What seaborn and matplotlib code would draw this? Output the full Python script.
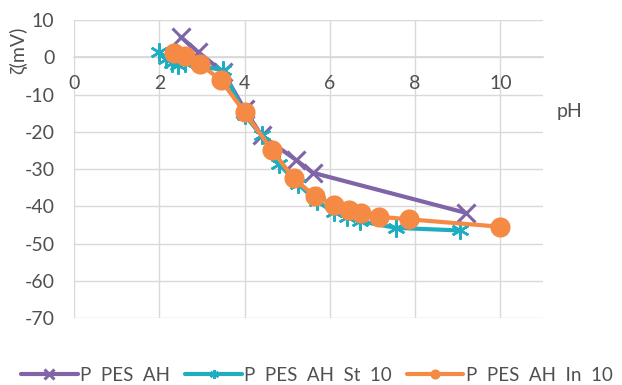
import matplotlib
matplotlib.use("Agg")
import matplotlib.pyplot as plt
import seaborn as sns
import pandas as pd

# data
ph_ah = [2.5, 2.9, 3.5, 4.0, 4.4, 5.2, 5.6, 9.2]
z_ah = [5.5, 1.5, -4.0, -14.0, -21.0, -27.5, -31.0, -41.8]

ph_st = [2.0, 2.15, 2.3, 2.45, 2.6, 3.5, 4.0, 4.4, 4.8, 5.25, 5.7, 6.1, 6.4, 6.7, 7.55, 9.05]
z_st = [1.5, -0.5, -1.5, -2.0, -1.5, -3.5, -15.5, -21.0, -28.6, -34.0, -38.7, -41.6, -43.0, -44.0, -45.8, -46.5]

ph_in = [2.35, 2.6, 2.95, 3.45, 4.0, 4.65, 5.15, 5.65, 6.1, 6.45, 6.72, 7.15, 7.85, 10.0]
z_in = [1.2, 0.3, -1.8, -6.2, -14.8, -25.0, -32.5, -37.3, -39.6, -40.9, -41.9, -42.8, -43.5, -45.5]

labels = ["P  PES  AH", "P  PES  AH  St  10", "P  PES  AH  In  10"]
colors = ["#8064A8", "#1FADC2", "#F58A45"]

sns.set_theme(style="white")
plt.rcParams['font.family'] = ['Lato', 'DejaVu Sans']
plt.rcParams['axes.unicode_minus'] = False

fig = plt.figure(figsize=(6.22, 3.85), dpi=100)
ax = fig.add_axes([0.119, 0.174, 0.754, 0.774])

df_ah = pd.DataFrame({"pH": ph_ah, "z": z_ah})
df_st = pd.DataFrame({"pH": ph_st, "z": z_st})
df_in = pd.DataFrame({"pH": ph_in, "z": z_in})

sns.lineplot(data=df_ah, x="pH", y="z", sort=False, ax=ax, color=colors[0],
             linewidth=3, marker="x", markersize=13, markeredgewidth=2.2,
             markeredgecolor=colors[0], label=labels[0], zorder=3)
sns.lineplot(data=df_st, x="pH", y="z", sort=False, ax=ax, color=colors[1],
             linewidth=3, marker=(6, 2, 0), markersize=13, markeredgewidth=1.8,
             markeredgecolor=colors[1], label=labels[1], zorder=4)
sns.lineplot(data=df_in, x="pH", y="z", sort=False, ax=ax, color=colors[2],
             linewidth=3, marker="o", markersize=14.5, markeredgewidth=0,
             label=labels[2], zorder=5)

ax.set_xlim(0, 11)
ax.set_ylim(-70, 10)
ax.set_xticks([0, 2, 4, 6, 8, 10])
ax.set_yticks(range(-70, 11, 10))
ax.grid(True, color="#D9D9D9", linewidth=1.0)
ax.set_axisbelow(True)
for s in ["top", "right", "left"]:
    ax.spines[s].set_visible(False)
ax.spines["bottom"].set_position(("data", 0))
ax.spines["bottom"].set_color("#D9D9D9")
ax.tick_params(axis="both", length=0, labelsize=14, colors="#505050")
ax.tick_params(axis="y", pad=14)
ax.tick_params(axis="x", pad=13)
ax.set_xlabel("")
ax.set_ylabel("")
fig.text(0.03, 0.87, "ζ(mV)", rotation=90, ha="center", va="center",
         fontsize=14, color="#505050")
fig.text(0.915, 0.71, "pH", ha="center", va="center", fontsize=14, color="#505050")

ax.legend_.remove()
handles, labs = ax.get_legend_handles_labels()
fig.legend(handles, labs, loc="lower center", bbox_to_anchor=(0.51, -0.04), ncol=3,
           frameon=False, fontsize=13.5, handlelength=3.0, columnspacing=0.8,
           handletextpad=0.15, markerscale=0.5, labelcolor="#505050")

fig.savefig("out.png", dpi=100)
